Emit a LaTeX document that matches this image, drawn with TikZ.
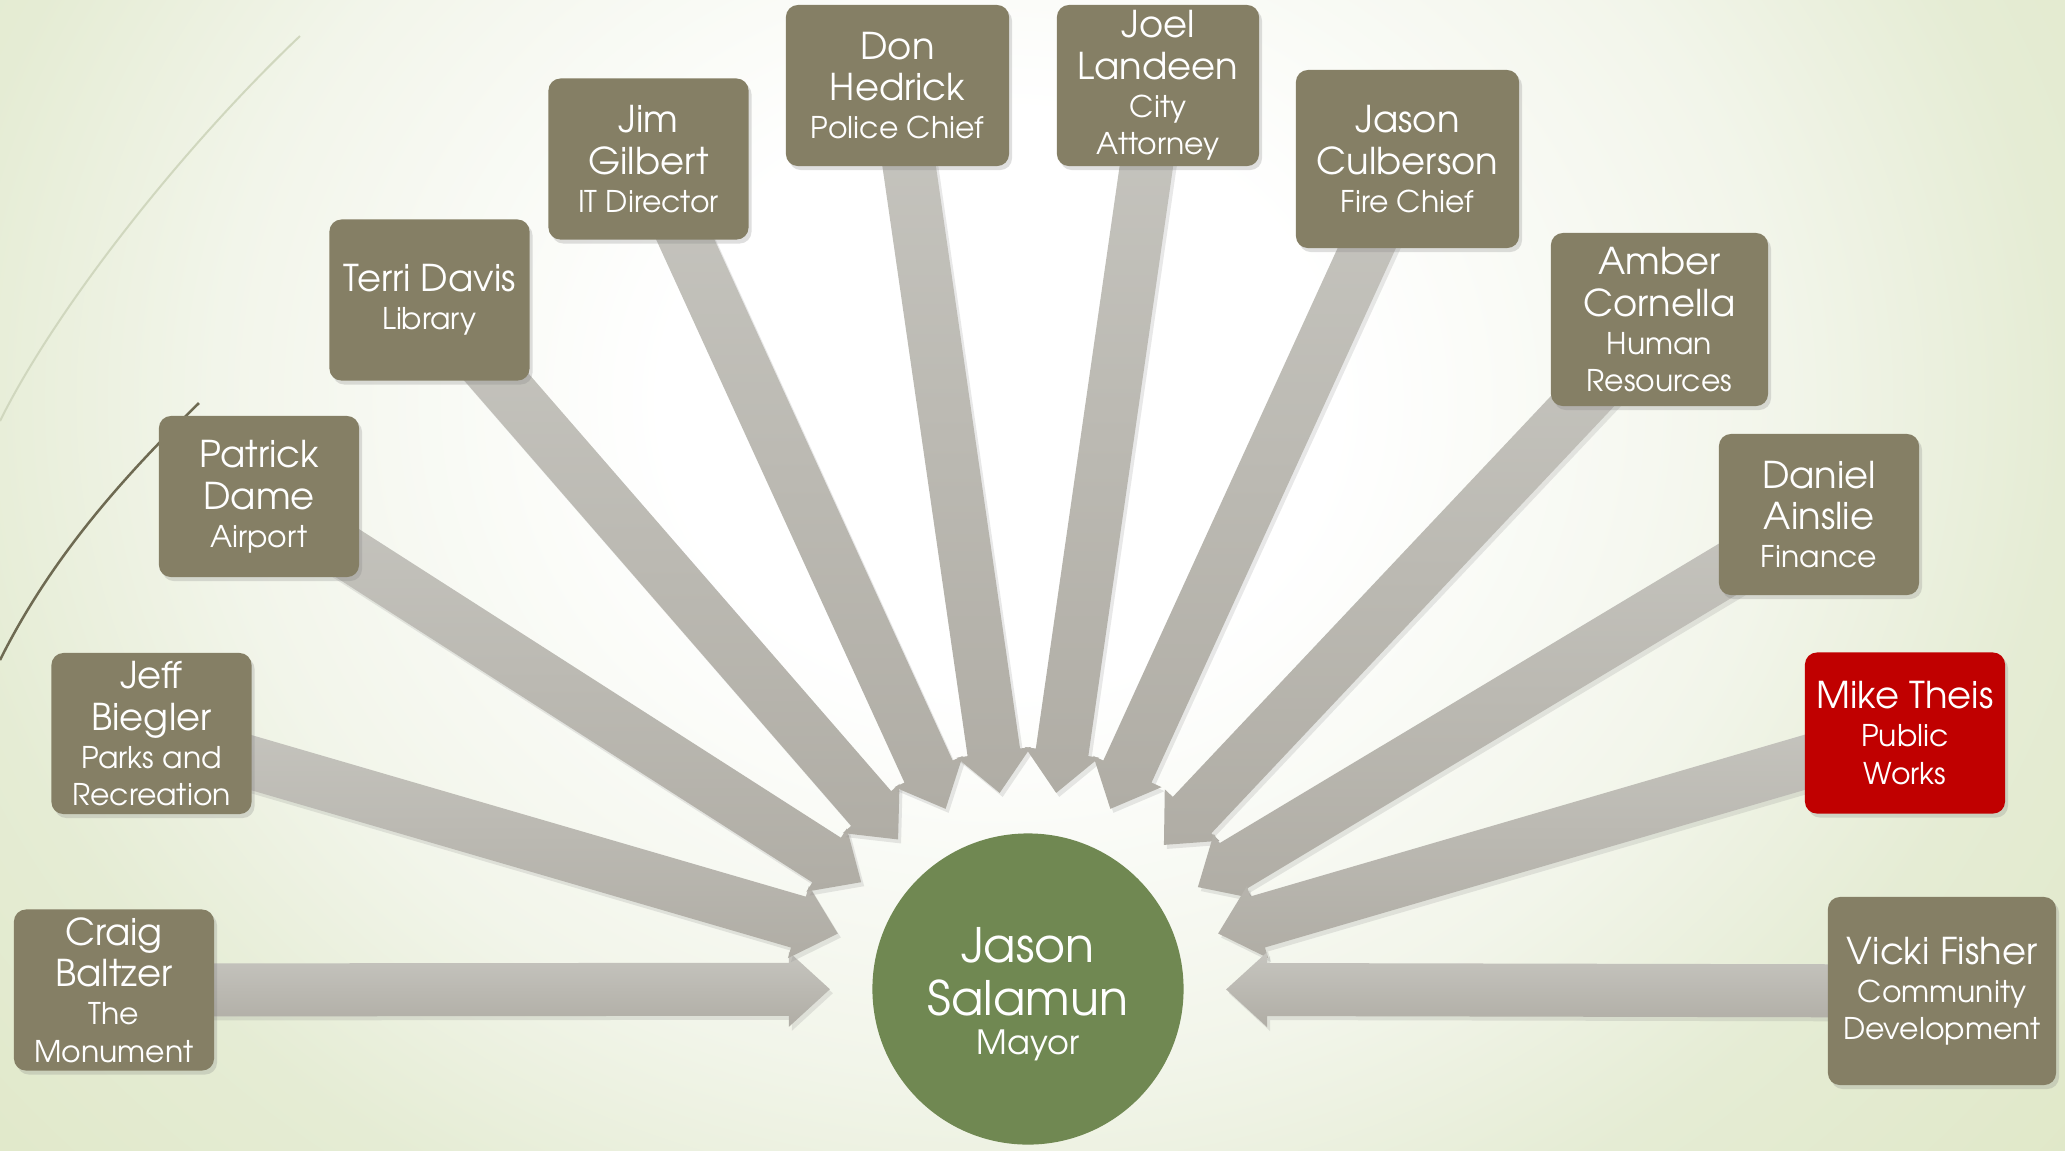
\documentclass[tikz,border=0pt]{standalone}
\usepackage{fontspec}
\setmainfont{texgyreadventor}[Extension=.otf, UprightFont=*-regular, BoldFont=*-bold, ItalicFont=*-italic, BoldItalicFont=*-bolditalic]
\usetikzlibrary{calc,shadows,backgrounds}

\definecolor{boxtaupe}{RGB}{133,127,101}
\definecolor{boxred}{RGB}{192,0,0}
\definecolor{mayorgreen}{RGB}{112,136,82}
\definecolor{arrowtop}{RGB}{198,197,191}
\definecolor{arrowbot}{RGB}{176,173,165}
\definecolor{swooshlight}{RGB}{208,215,190}
\definecolor{swooshdark}{RGB}{110,106,82}
\definecolor{bgmid}{RGB}{242,245,234}
\definecolor{bgedge}{RGB}{229,236,212}
\definecolor{bgouter}{RGB}{224,232,200}

\pgfdeclareradialshading{bgglow}{\pgfpoint{0bp}{0bp}}{color(0bp)=(white); color(6bp)=(white); color(14bp)=(bgmid); color(19bp)=(bgedge); color(25bp)=(bgouter); color(50bp)=(bgouter)}

\newcommand\namefont{\fontsize{10.5}{11.8}\selectfont}
\newcommand\rolesz[1]{{\fontsize{8.5}{9.5}\selectfont #1}}
\newcommand\tipgap{1.98cm}
\newcommand\headbase{2.39cm}
\newcommand\shafthalf{0.265cm}
\newcommand\headhalf{0.375cm}

\tikzset{
  staff/.style={rectangle, rounded corners=0.12cm, fill=boxtaupe, text=white,
    minimum width=2cm, minimum height=1.61cm, inner sep=1pt, align=center, font=\namefont,
    drop shadow={opacity=0.25, shadow xshift=0.03cm, shadow yshift=-0.04cm}},
  chief/.style={circle, fill=mayorgreen, text=white, minimum size=3.11cm, inner sep=0pt,
    align=center, font=\fontsize{13.5}{15}\selectfont},
  feed/.style={top color=arrowtop, bottom color=arrowbot,
    drop shadow={opacity=0.18, shadow xshift=0.03cm, shadow yshift=-0.04cm},
    to path={let \p1=(\tikztostart), \p2=(\tikztotarget),
      \n1={atan2(\y1-\y2,\x1-\x2)} in
      ($(\p1)+(\n1+90:\shafthalf)$)
      -- ($(\p2)+(\n1:\headbase)+(\n1+90:\shafthalf)$)
      -- ($(\p2)+(\n1:\headbase)+(\n1+90:\headhalf)$)
      -- ($(\p2)+(\n1:\tipgap)$)
      -- ($(\p2)+(\n1:\headbase)+(\n1-90:\headhalf)$)
      -- ($(\p2)+(\n1:\headbase)+(\n1-90:\shafthalf)$)
      -- ($(\p1)+(\n1-90:\shafthalf)$) -- cycle}}
}

\begin{document}
\begin{tikzpicture}[x=0.01cm,y=-0.01cm]
\useasboundingbox (0,0) rectangle (2065,1150);
%----background and swooshes-----------------------
\begin{scope}[on background layer]
\clip (0,0) rectangle (2065,1150);
\shade[shading=bgglow] (-400,-800) rectangle (2400,1600);
\draw[line width=0.02cm, swooshlight] (300,36) .. controls (180,150) and (55,310) .. (0,421);
\draw[line width=0.025cm, swooshdark] (199,403) .. controls (120,480) and (50,560) .. (0,660);
\end{scope}
%----mayor--------------------------------------
\node[chief] (salamun) at (1028,989) {\rule{0pt}{13pt}Jason\\Salamun\\[-4pt]{\fontsize{9.5}{11}\selectfont Mayor}};
%----department heads---------------------------
\node[staff] (baltzer) at (114,990) {Craig\\Baltzer\\[-1pt]\rolesz{The}\\[-1.2pt]\rolesz{Monument}};
\node[staff] (biegler) at (151.5,733.5) {Jeff\\Biegler\\[-1pt]\rolesz{Parks and}\\[-1.2pt]\rolesz{Recreation}};
\node[staff] (dame) at (259,496.5) {Patrick\\Dame\\[-1pt]\rolesz{Airport}};
\node[staff] (davis) at (429.5,300) {Terri Davis\\[-1pt]\rolesz{Library}};
\node[staff] (gilbert) at (648.5,159) {Jim\\Gilbert\\[-1pt]\rolesz{IT Director}};
\node[staff, minimum width=2.23cm] (hedrick) at (897.5,85.5) {Don\\Hedrick\\[-1pt]\rolesz{Police Chief}};
\node[staff, minimum width=2.02cm] (landeen) at (1158,85.5) {Joel\\Landeen\\[-1pt]\rolesz{City}\\[-1.2pt]\rolesz{Attorney}};
\node[staff, minimum width=2.23cm, minimum height=1.78cm] (culberson) at (1407.5,159) {Jason\\Culberson\\[-1pt]\rolesz{Fire Chief}};
\node[staff, minimum width=2.17cm, minimum height=1.73cm] (cornella) at (1659.5,319.5) {Amber\\Cornella\\[-1pt]\rolesz{Human}\\[-1.2pt]\rolesz{Resources}};
\node[staff] (ainslie) at (1819,514.5) {Daniel\\Ainslie\\[-1pt]\rolesz{Finance}};
\node[staff, fill=boxred] (theis) at (1905,733) {Mike Theis\\[-1pt]\rolesz{Public}\\[-1.2pt]\rolesz{Works}};
\node[staff, minimum width=2.28cm, minimum height=1.88cm] (fisher) at (1942,991) {Vicki Fisher\\[-1pt]\rolesz{Community}\\[-1.2pt]\rolesz{Development}};
%----arrows into the mayor----------------------
\begin{scope}[on background layer]
\shade[feed] (baltzer) to (salamun);
\shade[feed] (biegler) to (salamun);
\shade[feed] (dame) to (salamun);
\shade[feed] (davis) to (salamun);
\shade[feed] (gilbert) to (salamun);
\shade[feed] (hedrick) to (salamun);
\shade[feed] (landeen) to (salamun);
\shade[feed] (culberson) to (salamun);
\shade[feed] (cornella) to (salamun);
\shade[feed] (ainslie) to (salamun);
\shade[feed] (theis) to (salamun);
\shade[feed] (fisher) to (salamun);
\end{scope}
\end{tikzpicture}
\end{document}
